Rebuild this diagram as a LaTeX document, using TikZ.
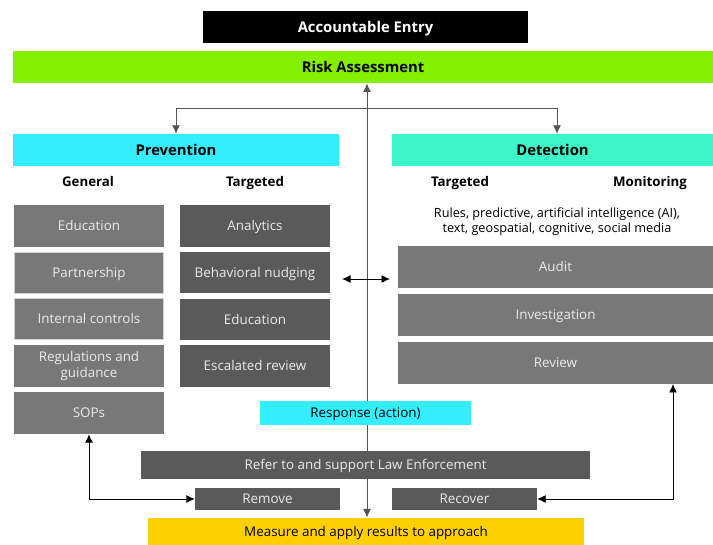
\documentclass[tikz,border=0pt]{standalone}
\usepackage{fontspec}
\setmainfont{Open Sans}
\usetikzlibrary{arrows.meta,backgrounds,calc}
\definecolor{riskgreen}{HTML}{84F000}
\definecolor{prevcyan}{HTML}{33EEFF}
\definecolor{detaqua}{HTML}{3CF5C8}
\definecolor{lightbox}{HTML}{787878}
\definecolor{darkbox}{HTML}{5A5A5A}
\definecolor{measureyellow}{HTML}{FFD000}
\definecolor{linegray}{HTML}{555555}
\tikzset{
  box/.style={inner sep=0pt, align=center, text height=12pt, text depth=2.4pt,
    font=\fontsize{13.4}{16}\selectfont},
  header/.style={box, text height=13pt, font=\fontsize{14.8}{17}\selectfont\bfseries},
  genbox/.style={box, fill=lightbox, text=white!92!black},
  tgtbox/.style={box, fill=darkbox, text=white!92!black},
  label/.style={inner sep=0pt, text height=12pt, text depth=2.4pt,
    font=\fontsize{13.3}{15}\selectfont\bfseries},
  tip/.style={arrows={-{Latex[length=8.5pt,width=8pt]}}},
  bitip/.style={arrows={{Latex[length=8.5pt,width=8pt]}-{Latex[length=8.5pt,width=8pt]}}},
}
\begin{document}
\begin{tikzpicture}[x=1pt,y=-1pt]
% x and y in pixels, y downwards
\useasboundingbox (0,0) rectangle (713,545);

% headers
\node[header, fill=black, text=white, minimum width=325pt, minimum height=32pt] (entry) at (365.5,27) {Accountable Entry};
\node[header, fill=riskgreen, minimum width=700pt, minimum height=32pt] (risk) at (363,67) {Risk Assessment};
\node[header, fill=prevcyan, minimum width=326pt, minimum height=32pt] (prev) at (176,150) {Prevention};
\node[header, fill=detaqua, minimum width=321pt, minimum height=32pt] (det) at (552.5,150) {Detection};

% column labels
\node[label] (lgen) at (88,182) {General};
\node[label] (ltgt) at (255,182) {Targeted};
\node[label] (dtgt) at (460,182) {Targeted};
\node[label] (dmon) at (650,182) {Monitoring};
\node[inner sep=0pt, align=center, font=\fontsize{12.7}{15}\selectfont] (rules) at (557,221.5) {Rules, predictive, artificial intelligence (AI),\\text, geospatial, cognitive, social media};

% prevention, general
\node[genbox, minimum width=150pt, minimum height=42pt] (g1) at (89,226) {Education};
\node[genbox, draw=gray!35, line width=0.8pt, minimum width=149pt, minimum height=41pt] (g2) at (89,272.5) {Partnership};
\node[genbox, draw=gray!35, line width=0.8pt, minimum width=149pt, minimum height=41pt] (g3) at (89,319) {Internal controls};
\node[genbox, text height=, text depth=, minimum width=150pt, minimum height=42pt] (g4) at (89,366) {Regulations and\\guidance};
\node[genbox, minimum width=150pt, minimum height=42pt] (g5) at (89,413) {SOPs};

% prevention, targeted
\node[tgtbox, minimum width=150pt, minimum height=42pt] (t1) at (255,226) {Analytics};
\node[tgtbox, minimum width=150pt, minimum height=41pt] (t2) at (255,272.5) {Behavioral nudging};
\node[tgtbox, minimum width=150pt, minimum height=41pt] (t3) at (255,319.5) {Education};
\node[tgtbox, minimum width=150pt, minimum height=42pt] (t4) at (255,366) {Escalated review};

% detection
\node[genbox, minimum width=315pt, minimum height=42pt] (d1) at (555.5,267) {Audit};
\node[genbox, minimum width=315pt, minimum height=42pt] (d2) at (555.5,315) {Investigation};
\node[genbox, minimum width=315pt, minimum height=42pt] (d3) at (555.5,363) {Review};

% response
\node[box, fill=prevcyan, minimum width=211pt, minimum height=24pt] (resp) at (365.5,413) {Response (action)};
\node[tgtbox, minimum width=449pt, minimum height=28pt] (law) at (365.5,465) {Refer to and support Law Enforcement};
\node[tgtbox, minimum width=145pt, minimum height=22pt] (remove) at (267.5,499) {Remove};
\node[tgtbox, minimum width=145pt, minimum height=22pt] (recover) at (464.5,499) {Recover};
\node[box, fill=measureyellow, minimum width=436pt, minimum height=27pt] (measure) at (366,531.5) {Measure and apply results to approach};

% spine from measurement back up to risk assessment, behind the response boxes
\coordinate (spinetop) at (367,83.5);
\coordinate (spinebot) at (367,517.5);
\begin{scope}[on background layer]
\draw[linegray, line width=0.9pt, bitip] (spinebot) -- (spinetop);
\end{scope}

% split into prevention and detection
\coordinate (splitL) at (176,108);
\coordinate (splitR) at (557,108);
\draw[linegray, line width=0.9pt, tip] (splitL) -- (prev.north);
\draw[linegray, line width=0.9pt] (splitL) -- (splitR);
\draw[linegray, line width=0.9pt, tip] (splitR) -- (splitR |- det.north);

% exchange between targeted prevention and detection
\coordinate (xL) at (342,279);
\coordinate (xR) at (390,279);
\draw[black, line width=0.9pt, bitip] (xL) -- (xR);

% feedback loops
\draw[black, line width=0.9pt, bitip] (g5.south) |- (remove.west);
\coordinate (revfoot) at (673,384);
\draw[black, line width=0.9pt, bitip] (revfoot) |- (recover.east);
\end{tikzpicture}
\end{document}
